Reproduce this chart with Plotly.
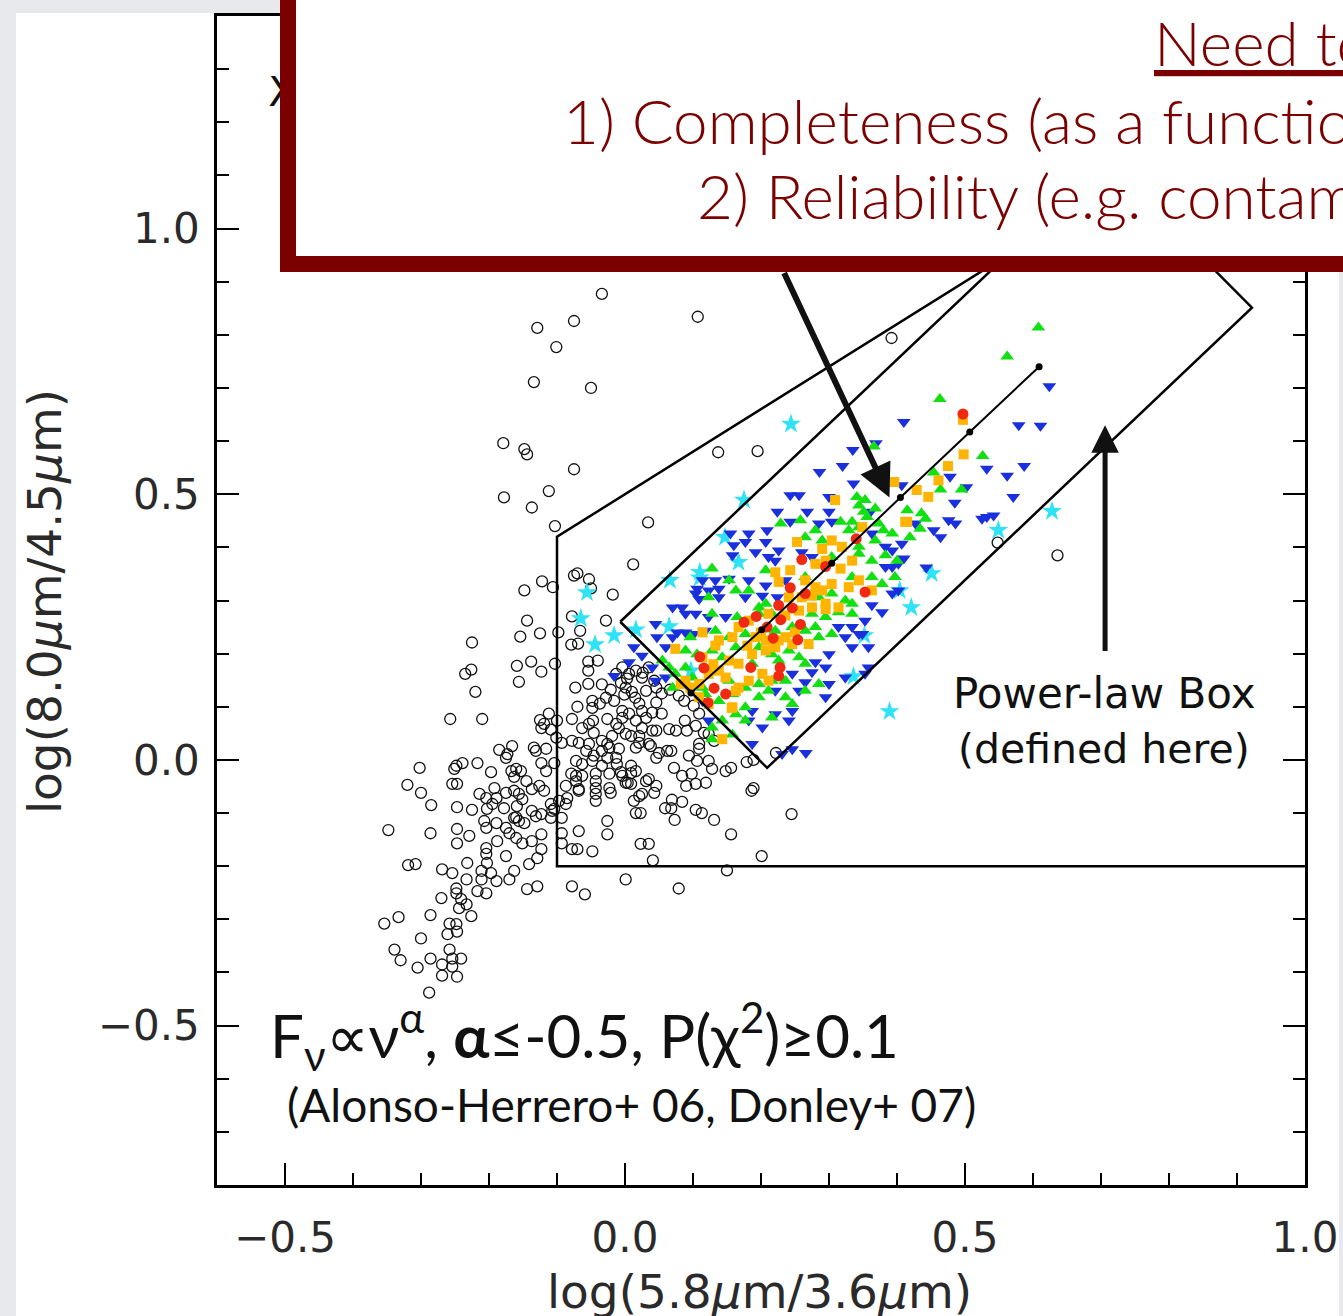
import plotly.graph_objects as go

# ---------------- data (data units) ----------------
field_pts = [
    (-0.034,0.877),(0.107,0.834),(-0.075,0.826),(-0.129,0.813),(-0.101,0.777),(-0.134,0.711),(-0.050,0.700),(0.392,0.794),
    (-0.179,0.596),(-0.148,0.585),(-0.144,0.575),(0.137,0.579),(0.195,0.581),(-0.075,0.547),(-0.178,0.494),(-0.137,0.475),
    (-0.112,0.506),(-0.103,0.440),(0.034,0.447),(0.012,0.368),(-0.075,0.347),(-0.070,0.351),(-0.053,0.340),(-0.050,0.323),
    (-0.122,0.336),(-0.148,0.319),(-0.106,0.325),(-0.018,0.311),(-0.078,0.270),(-0.028,0.262),(-0.144,0.262),(0.548,0.409),
    (0.636,0.385),(-0.154,0.232),(-0.125,0.238),(-0.098,0.240),(-0.066,0.243),(-0.225,0.221),(-0.079,0.217),(-0.069,0.219),
    (-0.235,0.162),(-0.226,0.170),(-0.220,0.128),(-0.159,0.177),(-0.138,0.185),(-0.123,0.166),(-0.156,0.147),(-0.103,0.181),
    (-0.054,0.185),(-0.040,0.187),(-0.054,0.168),(-0.073,0.136),(-0.054,0.143),(-0.034,0.142),(-0.021,0.132),(-0.006,0.145),
    (0.003,0.153),(-0.013,0.162),(0.026,0.164),(0.025,0.155),(0.043,0.149),
    (-0.257,0.077),(-0.210,0.077),(-0.070,0.100),(-0.048,0.098),(-0.037,0.106),(-0.028,0.117),(-0.016,0.111),(-0.001,0.123),
    (0.010,0.128),(0.015,0.117),(0.021,0.106),(0.025,0.092),(0.046,0.108),(0.054,0.125),(0.066,0.132),(0.079,0.121),
    (0.087,0.111),(0.101,0.102),(0.054,0.087),(0.040,0.089),
    (-0.125,0.075),(-0.112,0.087),(-0.100,0.074),(-0.123,0.060),(-0.109,0.057),(-0.101,0.042),(-0.093,0.032),(-0.119,0.068),
    (-0.078,0.077),(-0.063,0.060),(-0.053,0.068),(-0.046,0.051),(-0.034,0.036),(-0.019,0.045),(-0.009,0.060),(0.001,0.049),
    (-0.068,0.032),(-0.057,0.017),(-0.046,0.008),(-0.034,0.017),(-0.023,0.023),(-0.013,0.004),
    (0.009,0.045),(0.016,0.023),(0.021,0.045),(0.040,0.055),(0.038,0.026),(0.050,0.013),(0.062,0.017),(0.068,0.017),
    (0.075,0.055),(0.091,0.055),(0.104,0.064),(0.116,0.051),(0.094,0.008),(0.106,-0.002),(0.109,0.021),
    (-0.004,0.174),(0.006,0.162),(0.016,0.168),(0.035,0.174),(0.001,0.136),(0.031,0.130),(0.046,0.136),(0.109,0.087),
    (-0.004,0.092),(0.006,0.087),(0.016,0.074),(0.031,0.079),(0.025,0.060),(0.065,0.058),(0.088,0.074),(0.123,0.049),
    (0.109,0.030),(0.131,0.036),(0.222,0.013),
    (-0.185,0.019),(-0.173,0.011),(-0.166,0.026),(-0.175,0.004),(-0.134,0.023),(-0.131,0.017),(-0.116,0.021),(-0.123,-0.006),
    (-0.104,-0.006),(-0.048,0.111),(-0.047,0.074),(-0.026,0.077),(-0.013,0.068),(-0.004,0.079),(0.046,0.055),(-0.078,0.036),
    (-0.053,0.030),(-0.026,0.030),(-0.009,0.021),(0.021,0.032),(0.035,0.030),(0.046,0.004),
    (0.123,-0.002),(0.128,-0.017),(0.148,-0.021),(0.156,-0.015),(0.179,-0.004),(0.189,0.000),(0.189,-0.053),(0.186,-0.058),
    (0.245,-0.102),(0.201,-0.181),(0.156,-0.140),(0.131,-0.113),(0.113,-0.100),(0.104,-0.094),(0.119,-0.043),(0.104,-0.045),
    (0.098,-0.026),(0.084,-0.030),(0.090,-0.049),(0.072,-0.015),(0.073,-0.113),(0.068,-0.091),(0.059,-0.091),(0.069,-0.075),
    (0.084,-0.079),(0.043,-0.062),(0.025,-0.064),(0.021,-0.068),(0.013,-0.077),(0.016,-0.100),(0.023,-0.100),(0.035,-0.036),
    (0.031,-0.040),(0.009,-0.025),(0.001,-0.043),(0.004,-0.043),(-0.006,-0.023),(-0.004,-0.030),(-0.023,-0.053),(-0.021,-0.062),
    (-0.043,-0.026),(-0.043,-0.040),(-0.043,-0.053),(-0.043,-0.064),(-0.043,-0.077),(-0.068,-0.058),(-0.063,-0.030),(-0.072,-0.030),
    (-0.079,-0.026),(-0.087,-0.049),(-0.085,-0.072),(-0.087,-0.083),(-0.097,-0.077),(-0.104,-0.092),(-0.109,-0.109),(-0.093,-0.109),
    (-0.068,-0.134),(-0.026,-0.115),(-0.026,-0.140),(-0.093,-0.138),(-0.093,-0.157),(-0.078,-0.168),(-0.070,-0.168),(-0.048,-0.172),
    (0.023,-0.158),(0.035,-0.158),(0.041,-0.189),(0.001,-0.225),(0.079,-0.242),(0.150,-0.208),(-0.078,-0.238),(-0.059,-0.253),
    (-0.129,-0.238),(-0.144,-0.243),
    (-0.072,-0.002),(-0.063,-0.008),(-0.048,-0.002),(-0.034,-0.011),(-0.026,0.004),(-0.012,-0.008),(0.009,-0.011),(0.016,-0.021),
    (-0.072,-0.040),(-0.068,-0.055),(-0.023,-0.026),(0.009,-0.045),(0.046,-0.049),
    (-0.302,-0.015),(-0.320,-0.047),(-0.300,-0.062),(-0.285,-0.085),(-0.251,-0.017),(-0.248,-0.011),(-0.239,-0.006),(-0.217,-0.006),
    (-0.197,-0.023),(-0.254,-0.045),(-0.247,-0.045),(-0.167,-0.021),(-0.160,-0.017),(-0.153,-0.021),(-0.163,-0.032),(-0.116,-0.021),
    (-0.145,-0.040),(-0.137,-0.055),(-0.126,-0.049),(-0.119,-0.058),(-0.214,-0.064),(-0.204,-0.072),(-0.192,-0.053),(-0.189,-0.072),
    (-0.195,-0.083),(-0.175,-0.062),(-0.163,-0.058),(-0.156,-0.064),(-0.151,-0.074),(-0.159,-0.087),(-0.247,-0.089),(-0.225,-0.094),
    (-0.203,-0.092),(-0.178,-0.091),(-0.160,-0.108),(-0.109,-0.083),(-0.107,-0.096),(-0.137,-0.096),(-0.131,-0.106),(-0.123,-0.102),
    (-0.207,-0.115),(-0.204,-0.128),(-0.189,-0.119),(-0.175,-0.128),(-0.163,-0.109),(-0.156,-0.115),(-0.148,-0.119),
    (-0.348,-0.132),(-0.286,-0.138),(-0.247,-0.130),(-0.247,-0.157),(-0.229,-0.143),(-0.188,-0.153),(-0.170,-0.138),(-0.160,-0.147),
    (-0.151,-0.157),(-0.137,-0.153),(-0.123,-0.140),(-0.204,-0.166),(-0.204,-0.177),(-0.203,-0.194),(-0.197,-0.213),(-0.189,-0.228),
    (-0.175,-0.181),(-0.163,-0.209),(-0.170,-0.225),(-0.141,-0.196),(-0.129,-0.185),(-0.123,-0.168),
    (-0.319,-0.198),(-0.308,-0.196),(-0.269,-0.206),(-0.254,-0.213),(-0.232,-0.194),(-0.211,-0.209),(-0.211,-0.225),(-0.233,-0.225),
    (-0.248,-0.242),(-0.248,-0.251),(-0.270,-0.260),(-0.241,-0.262),(-0.233,-0.272),(-0.244,-0.279),(-0.226,-0.294),(-0.217,-0.247),
    (-0.204,-0.251),
    (-0.354,-0.308),(-0.333,-0.296),(-0.286,-0.292),(-0.258,-0.308),(-0.248,-0.309),(-0.247,-0.323),(-0.261,-0.328),(-0.300,-0.336),
    (-0.339,-0.357),(-0.330,-0.377),(-0.305,-0.391),(-0.286,-0.374),(-0.269,-0.385),(-0.258,-0.357),(-0.254,-0.374),(-0.241,-0.374),
    (-0.254,-0.389),(-0.269,-0.406),(-0.247,-0.408),(-0.288,-0.438),
]

blue_pts = [
    (0.336,0.520),(0.407,0.517),(0.243,0.498),(0.256,0.498),(0.300,0.495),(0.224,0.467),(0.268,0.467),(0.300,0.467),
    (0.361,0.467),(0.243,0.448),(0.285,0.445),(0.304,0.448),(0.155,0.426),(0.182,0.426),(0.209,0.432),(0.177,0.410),
    (0.207,0.410),(0.160,0.404),(0.226,0.394),(0.363,0.426),(0.383,0.401),(0.407,0.407),(0.192,0.391),(0.211,0.382),
    (0.158,0.385),(0.221,0.375),(0.260,0.391),(0.275,0.382),(0.393,0.394),(0.393,0.363),(0.402,0.369),(0.410,0.379),
    (0.383,0.363),(0.114,0.338),(0.133,0.338),(0.153,0.341),(0.106,0.322),(0.123,0.319),(0.138,0.322),(0.182,0.338),
    (0.207,0.328),(0.236,0.338),(0.070,0.287),(0.084,0.287),(0.104,0.313),(0.109,0.303),(0.138,0.306),(0.177,0.306),
    (0.202,0.309),(0.224,0.306),(0.363,0.291),(0.378,0.278),(0.393,0.313),(0.402,0.319),(0.045,0.256),(0.089,0.275),
    (0.104,0.275),(0.123,0.269),(0.148,0.269),(0.077,0.240),(0.047,0.231),(0.314,0.250),(0.334,0.250),(0.353,0.262),
    (0.349,0.237),(0.089,0.240),(0.101,0.237),(0.118,0.243),(0.070,0.231),(0.013,0.212),(0.324,0.231),(0.344,0.237),
    (0.334,0.212),(0.358,0.212),(0.006,0.184),(0.025,0.196),(0.040,0.174),(0.060,0.212),(0.280,0.184),(0.300,0.199),
    (0.275,0.165),(0.295,0.174),(0.358,0.174),(0.045,0.149),(0.060,0.155),(0.246,0.162),(0.265,0.146),(0.300,0.143),
    (0.324,0.155),(0.114,0.111),(0.187,0.092),(0.221,0.130),(0.246,0.092),(0.295,0.118),(0.256,0.130),(0.123,0.074),
    (0.182,0.074),(0.202,0.061),(0.221,0.086),(0.241,0.074),(0.187,0.030),(0.231,0.011),(0.246,0.020),(0.353,0.162),
    (-0.016,0.158),(0.266,0.013),(0.410,0.636),(0.579,0.630),(0.611,0.629),(0.624,0.703),(0.335,0.583),(0.369,0.596),
    (0.320,0.553),(0.286,0.542),(0.532,0.548),(0.587,0.553),(0.562,0.535),(0.478,0.533),(0.502,0.513),(0.485,0.484),
    (0.532,0.457),(0.542,0.460),(0.525,0.454),(0.571,0.495),(0.476,0.451),(0.486,0.445),(0.454,0.432),(0.464,0.419),
    (0.427,0.445),(0.443,0.362),
]

green_pts = [
    (0.341,0.495),(0.353,0.489),(0.344,0.479),(0.351,0.467),(0.368,0.473),(0.229,0.445),(0.258,0.451),(0.317,0.448),
    (0.334,0.448),(0.344,0.438),(0.356,0.457),(0.373,0.445),(0.380,0.432),(0.415,0.470),(0.280,0.432),(0.265,0.419),
    (0.290,0.413),(0.329,0.432),(0.344,0.401),(0.368,0.413),(0.393,0.426),(0.304,0.382),(0.344,0.388),(0.363,0.375),
    (0.383,0.385),(0.400,0.375),(0.128,0.360),(0.153,0.338),(0.207,0.357),(0.265,0.344),(0.334,0.344),(0.363,0.344),
    (0.378,0.331),(0.397,0.344),(0.123,0.306),(0.163,0.319),(0.182,0.319),(0.197,0.287),(0.207,0.294),(0.285,0.306),
    (0.304,0.313),(0.324,0.300),(0.334,0.294),(0.128,0.275),(0.165,0.269),(0.197,0.275),(0.216,0.275),(0.275,0.275),
    (0.295,0.269),(0.314,0.278),(0.334,0.275),(0.096,0.231),(0.133,0.243),(0.153,0.231),(0.177,0.237),(0.197,0.231),
    (0.221,0.243),(0.246,0.250),(0.285,0.231),(0.265,0.243),(0.304,0.237),(0.280,0.250),(0.055,0.187),(0.089,0.206),
    (0.106,0.199),(0.128,0.206),(0.143,0.193),(0.163,0.212),(0.197,0.212),(0.216,0.199),(0.241,0.206),(0.256,0.193),
    (0.226,0.187),(0.065,0.174),(0.089,0.174),(0.187,0.181),(0.265,0.181),(0.074,0.162),(0.099,0.155),(0.070,0.136),
    (0.114,0.136),(0.153,0.149),(0.177,0.136),(0.197,0.143),(0.216,0.149),(0.236,0.149),(0.118,0.124),(0.138,0.111),
    (0.158,0.124),(0.177,0.099),(0.197,0.118),(0.211,0.130),(0.236,0.118),(0.246,0.105),(0.265,0.130),(0.285,0.143),
    (0.128,0.061),(0.143,0.074),(0.163,0.086),(0.177,0.074),(0.128,0.039),(0.216,0.080),(0.158,0.048),
    (0.608,0.814),(0.562,0.759),(0.463,0.679),(0.526,0.572),(0.454,0.541),(0.495,0.509),(0.464,0.509),(0.436,0.464),
    (0.442,0.454),(0.419,0.419),(0.434,0.435),(0.366,0.590),(0.370,0.532),
]

orange_pts = [
    (0.396,0.523),(0.309,0.489),(0.412,0.448),(0.253,0.410),(0.304,0.413),(0.349,0.438),(0.290,0.397),(0.319,0.401),
    (0.280,0.369),(0.295,0.375),(0.317,0.360),(0.334,0.375),(0.221,0.353),(0.226,0.335),(0.243,0.357),(0.265,0.338),
    (0.280,0.325),(0.304,0.331),(0.329,0.325),(0.344,0.338),(0.241,0.306),(0.260,0.306),(0.275,0.309),(0.290,0.319),
    (0.363,0.319),(0.295,0.294),(0.167,0.250),(0.182,0.262),(0.211,0.275),(0.236,0.272),(0.256,0.281),(0.275,0.287),
    (0.295,0.284),(0.314,0.287),(0.114,0.240),(0.138,0.225),(0.158,0.231),(0.192,0.231),(0.207,0.225),(0.226,0.225),
    (0.246,0.218),(0.270,0.218),(0.236,0.231),(0.074,0.209),(0.114,0.193),(0.133,0.215),(0.153,0.187),(0.167,0.181),
    (0.187,0.199),(0.207,0.206),(0.221,0.212),(0.089,0.149),(0.096,0.136),(0.109,0.143),(0.123,0.162),(0.138,0.168),
    (0.148,0.155),(0.167,0.136),(0.182,0.149),(0.202,0.162),(0.211,0.149),(0.123,0.105),(0.158,0.099),(0.163,0.130),
    (0.109,0.118),(0.143,0.039),(0.082,0.143),(0.157,0.098),(0.200,0.240),(0.250,0.240),(0.180,0.215),(0.130,0.180),
    (0.497,0.640),(0.498,0.575),(0.475,0.553),(0.461,0.526),(0.429,0.508),(0.446,0.495),(0.415,0.448),
]

red_pts = [
    (0.340,0.416),(0.260,0.377),(0.295,0.364),(0.243,0.324),(0.265,0.313),(0.226,0.291),(0.246,0.286),(0.353,0.316),
    (0.175,0.259),(0.193,0.270),(0.229,0.264),(0.258,0.255),(0.209,0.250),(0.218,0.229),(0.254,0.226),(0.110,0.194),
    (0.116,0.173),(0.185,0.174),(0.228,0.174),(0.226,0.158),(0.131,0.135),(0.148,0.124),(0.122,0.108),(0.497,0.651),
]

cyan_pts = [
    (0.244,0.632),(0.175,0.489),(0.147,0.419),(0.167,0.372),(0.110,0.353),(0.110,0.343),(0.066,0.338),(-0.056,0.315),
    (-0.065,0.266),(-0.044,0.217),(-0.016,0.234),(0.016,0.245),(0.065,0.251),(0.097,0.168),(0.404,0.319),(0.421,0.287),
    (0.451,0.351),(0.352,0.234),(0.336,0.157),(0.389,0.091),(0.549,0.432),(0.628,0.468),
]

# selection regions / model line
wedge_x = [1.0, -0.1, -0.1, 1.0]
wedge_y = [-0.2, -0.2, 0.42, 1.3]
box_x = [-0.007, 0.209, 0.922, 0.708, -0.007]
box_y = [0.260, -0.015, 0.851, 1.127, 0.260]
locus_x = [0.097, 0.201, 0.304, 0.405, 0.507, 0.609]
locus_y = [0.126, 0.245, 0.370, 0.494, 0.617, 0.740]

x_ticks = [-0.5, 0.0, 0.5, 1.0]
y_ticks = [-0.5, 0.0, 0.5, 1.0]

# ---------------- figure geometry ----------------
W, H = 1343, 1316
ML, MR, MT, MB = 217, 38, 16, 131
PW, PH = W - ML - MR, H - MT - MB


def px(xp):
    return (xp - ML) / PW


def py(yp):
    return (H - MB - yp) / PH


MAROON = '#7b0000'

fig = go.Figure()

def xs(p):
    return [a for a, b in p]

def ys(p):
    return [b for a, b in p]

fig.add_trace(go.Scatter(x=xs(field_pts), y=ys(field_pts), mode='markers',
                         marker=dict(symbol='circle-open', size=11, color='#111',
                                     line=dict(width=1.3, color='#111'))))
fig.add_trace(go.Scatter(x=xs(cyan_pts), y=ys(cyan_pts), mode='markers',
                         marker=dict(symbol='star', size=15, color='#2de3f5', line=dict(width=0))))
fig.add_trace(go.Scatter(x=xs(blue_pts), y=ys(blue_pts), mode='markers',
                         marker=dict(symbol='triangle-down', size=12, color='#1a30dc', line=dict(width=0))))
fig.add_trace(go.Scatter(x=xs(green_pts), y=ys(green_pts), mode='markers',
                         marker=dict(symbol='triangle-up', size=12, color='#12e012', line=dict(width=0))))
fig.add_trace(go.Scatter(x=xs(orange_pts), y=ys(orange_pts), mode='markers',
                         marker=dict(symbol='square', size=10, color='#ffb400', line=dict(width=0))))
fig.add_trace(go.Scatter(x=xs(red_pts), y=ys(red_pts), mode='markers',
                         marker=dict(symbol='circle', size=11, color='#f02a10', line=dict(width=0))))

fig.add_trace(go.Scatter(x=wedge_x, y=wedge_y, mode='lines', line=dict(color='#000', width=2.5)))
fig.add_trace(go.Scatter(x=box_x, y=box_y, mode='lines', line=dict(color='#000', width=2.5)))
fig.add_trace(go.Scatter(x=locus_x, y=locus_y, mode='lines+markers', line=dict(color='#000', width=2),
                         marker=dict(size=7, color='#000')))
# partially hidden title letter behind the overlay box
fig.add_trace(go.Scatter(x=[-0.504], y=[1.249], mode='text', text=['X'],
                         textfont=dict(family='DejaVu Sans', size=41, color='#111')))

axis_common = dict(showgrid=False, zeroline=False, showline=True, linecolor='#000', linewidth=2.5,
                   mirror='allticks', ticks='inside', ticklen=22, tickwidth=2, tickcolor='#000',
                   tickformat='.1f', tickfont=dict(family='DejaVu Sans', size=42, color='#2a2a2a'),
                   automargin=False,
                   minor=dict(dtick=0.1, tick0=0, ticks='inside', ticklen=12, tickwidth=2,
                              tickcolor='#000', showgrid=False))

fig.update_layout(
    width=W, height=H, autosize=False,
    margin=dict(l=ML, r=MR, t=MT, b=MB, pad=0, autoexpand=False),
    paper_bgcolor='white', plot_bgcolor='white',
    showlegend=False,
    xaxis=dict(range=[-0.6, 1.0], tickvals=x_ticks, ticklabelstandoff=14, **axis_common),
    yaxis=dict(range=[-0.8, 1.4], tickvals=y_ticks, ticklabelstandoff=6, **axis_common),
)

shapes = [
    # slide background strips
    dict(type='rect', xref='paper', yref='paper', x0=px(-5), x1=px(16), y0=py(1330), y1=py(-5),
         fillcolor='#e8e9ed', line=dict(width=0), layer='above'),
    dict(type='rect', xref='paper', yref='paper', x0=px(-5), x1=px(1350), y0=py(13), y1=py(-5),
         fillcolor='#e8e9ed', line=dict(width=0), layer='above'),
    dict(type='rect', xref='paper', yref='paper', x0=px(1339), x1=px(1350), y0=py(1330), y1=py(-5),
         fillcolor='#e8e9ed', line=dict(width=0), layer='above'),
    # overlay text box
    dict(type='rect', xref='paper', yref='paper', x0=px(288), x1=px(1400), y0=py(264), y1=py(-40),
         fillcolor='white', line=dict(color=MAROON, width=16), layer='above'),
]
fig.update_layout(shapes=shapes)

anns = [
    dict(xref='paper', yref='paper', x=px(759), y=py(1291), text='log(5.8<i>μ</i>m/3.6<i>μ</i>m)',
         showarrow=False, xanchor='center', yanchor='middle',
         font=dict(family='DejaVu Sans', size=47, color='#2a2a2a')),
    dict(xref='paper', yref='paper', x=px(44), y=py(602), text='log(8.0<i>μ</i>m/4.5<i>μ</i>m)',
         showarrow=False, xanchor='center', yanchor='middle', textangle=-90,
         font=dict(family='DejaVu Sans', size=47, color='#2a2a2a')),
    dict(xref='paper', yref='paper', x=px(1104), y=py(694), text='Power-law Box',
         showarrow=False, xanchor='center', yanchor='middle',
         font=dict(family='DejaVu Sans', size=42, color='#111')),
    dict(xref='paper', yref='paper', x=px(1104), y=py(749), text='(defined here)',
         showarrow=False, xanchor='center', yanchor='middle',
         font=dict(family='DejaVu Sans', size=41, color='#111')),
    dict(xref='paper', yref='paper', x=px(268), y=py(1036),
         text='F<sub>ν</sub>∝ν<sup>α</sup>, <b>α</b>≤-0.5, P(χ<sup>2</sup>)≥0.1',
         showarrow=False, xanchor='left', yanchor='middle',
         font=dict(family='Lato', size=60, color='#111')),
    dict(xref='paper', yref='paper', x=px(285), y=py(1104),
         text='(Alonso-Herrero+ 06, Donley+ 07)',
         showarrow=False, xanchor='left', yanchor='middle',
         font=dict(family='Lato', size=46, color='#111')),
    dict(xref='paper', yref='paper', x=px(1152), y=py(42), text='<u>Need to quantify:</u>',
         showarrow=False, xanchor='left', yanchor='middle',
         font=dict(family='Lato', size=62, color=MAROON, weight=300)),
    dict(xref='paper', yref='paper', x=px(561), y=py(120),
         text='1) Completeness (as a function of flux)',
         showarrow=False, xanchor='left', yanchor='middle',
         font=dict(family='Lato', size=62, color=MAROON, weight=300)),
    dict(xref='paper', yref='paper', x=px(695), y=py(195),
         text='2) Reliability (e.g. contamination)',
         showarrow=False, xanchor='left', yanchor='middle',
         font=dict(family='Lato', size=62, color=MAROON, weight=300)),
    # arrows
    dict(xref='x', yref='y', axref='x', ayref='y', x=0.389, y=0.494, ax=0.233, ay=0.919,
         text='', showarrow=True, arrowhead=2, arrowsize=1.1, arrowwidth=6, arrowcolor='#111', standoff=0),
    dict(xref='x', yref='y', axref='x', ayref='y', x=0.706, y=0.630, ax=0.706, ay=0.202,
         text='', showarrow=True, arrowhead=2, arrowsize=1.1, arrowwidth=5, arrowcolor='#111', standoff=0),
]
fig.update_layout(annotations=anns)

fig.write_html('out.html')
